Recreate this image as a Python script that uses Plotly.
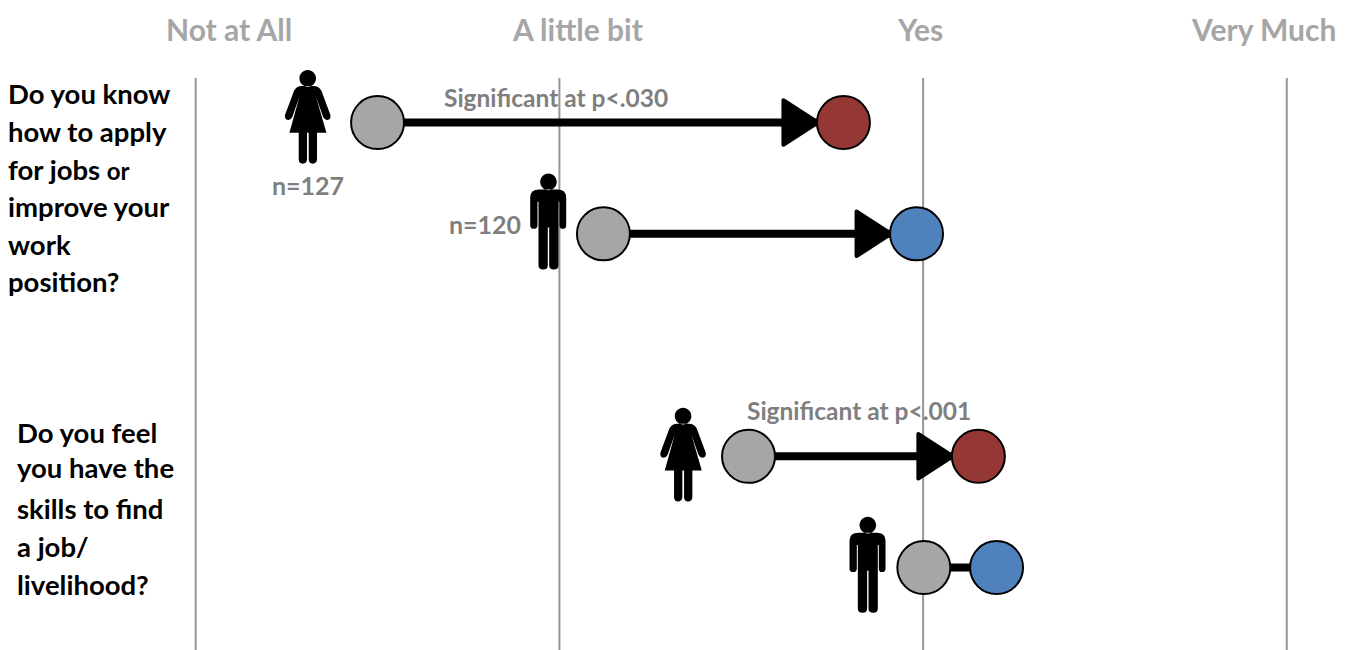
import plotly.graph_objects as go

# ---- data ----
scale_labels = ["Not at All", "A little bit", "Yes", "Very Much"]
scale_values = [0, 1, 2, 3]
rows = [0, 1, 3, 4]
groups = ["Women", "Men", "Women", "Men"]
before = [0.500, 1.121, 1.520, 2.002]
after = [1.781, 1.982, 2.152, 2.202]
after_colors = ["#953735", "#4f81bd", "#953735", "#4f81bd"]
has_arrow = [True, True, True, False]
icon_x = [0.308, 0.970, 1.340, 1.848]
icon_row = [-0.050, 0.895, 2.985, 3.980]
question_1 = ["Do you know", "how to apply", "for jobs <span style='font-size:24px'>or</span>", "improve your", "work", "position?"]
question_2 = ["Do you feel", "you have the", "skills to find", "a job/", "livelihood?"]
question_2_lines = [432, 467, 508, 546, 584]
sig_notes = ["Significant at p&lt;.030", "Significant at p&lt;.001"]
n_notes = ["n=127", "n=120"]

W, H = 1353, 650
X0, XS = 195.7, 363.7
Y0, YS = 122.6, 111.25
TOP = 78


def fmt(d):
    return f"{d[0]:.1f},{-d[1]:.1f}"


def transform(segments, cx, cy, k=1 / 3):
    """zoomed drawing units -> pixel offsets (y up) from the icon centre"""
    out = []
    for cmd, *pts in segments:
        out.append(cmd + " ".join(fmt(((p[0] - cx) * k, (p[1] - cy) * k)) for p in pts))
    return " ".join(out)


def circle(cx, cy, r):
    c = 0.5523 * r
    return [("M", (cx - r, cy)),
            ("C", (cx - r, cy - c), (cx - c, cy - r), (cx, cy - r)),
            ("C", (cx + c, cy - r), (cx + r, cy - c), (cx + r, cy)),
            ("C", (cx + r, cy + c), (cx + c, cy + r), (cx, cy + r)),
            ("C", (cx - c, cy + r), (cx - r, cy + c), (cx - r, cy)),
            ("Z",)]


woman = circle(147, 55, 25) + [
    ("M", (127, 78)), ("L", (167, 78)), ("Q", (182, 80), (188, 92)), ("L", (215, 165)),
    ("Q", (217, 178), (206, 180)), ("Q", (198, 181), (193, 170)), ("L", (172, 110)),
    ("L", (203, 218)), ("L", (175, 218)), ("L", (175, 298)), ("Q", (174, 311), (162, 311)),
    ("Q", (150, 311), (150, 298)), ("L", (150, 218)), ("L", (145, 218)), ("L", (145, 298)),
    ("Q", (144, 311), (132, 311)), ("Q", (120, 311), (120, 298)), ("L", (120, 218)),
    ("L", (92, 218)), ("L", (122, 110)), ("L", (101, 170)), ("Q", (96, 181), (88, 180)),
    ("Q", (77, 178), (79, 165)), ("L", (106, 92)), ("Q", (112, 80), (127, 78)), ("Z",)]
man = circle(328, 35, 25) + [
    ("M", (300, 58)), ("L", (355, 58)), ("Q", (381, 58), (381, 82)), ("L", (381, 165)),
    ("Q", (381, 176), (371, 176)), ("Q", (361, 176), (361, 165)), ("L", (361, 95)),
    ("L", (358, 95)), ("L", (358, 285)), ("Q", (358, 298), (344, 298)), ("Q", (330, 298), (330, 285)),
    ("L", (330, 172)), ("L", (326, 172)), ("L", (326, 285)), ("Q", (326, 298), (312, 298)),
    ("Q", (298, 298), (298, 285)), ("L", (298, 95)), ("L", (295, 95)), ("L", (295, 165)),
    ("Q", (295, 176), (284, 176)), ("Q", (273, 176), (273, 165)), ("L", (273, 82)),
    ("Q", (273, 58), (300, 58)), ("Z",)]
icon_paths = {"Women": transform(woman, 147, 171), "Men": transform(man, 328, 156)}
head_path = "M-62,22 Q-62,25 -59,24 L-25,2 Q-24,0 -25,-2 L-59,-24 Q-62,-25 -62,-22 Z"

y_top = (TOP - Y0) / YS
y_bottom = (H - Y0) / YS

fig = go.Figure()
for r, a, b, c in zip(rows, before, after, after_colors):
    fig.add_trace(go.Scatter(x=[a, b], y=[r, r], mode="lines", showlegend=False, hoverinfo="skip",
                             line=dict(color="black", width=8)))
    fig.add_trace(go.Scatter(x=[a, b], y=[r, r], mode="markers", showlegend=False, hoverinfo="skip",
                             marker=dict(size=53, color=["#a6a6a6", c], line=dict(color="black", width=2))))

shapes = []
for v in scale_values:
    shapes.append(dict(type="line", layer="below", xref="x", yref="y", x0=v, x1=v, y0=y_top, y1=y_bottom,
                       line=dict(color="#969696", width=2)))
for r, b, arrow in zip(rows, after, has_arrow):
    if arrow:
        shapes.append(dict(type="path", layer="below", xref="x", yref="y", xsizemode="pixel", ysizemode="pixel",
                           xanchor=b, yanchor=r, path=head_path, fillcolor="black", line=dict(width=0)))
for g, x, y in zip(groups, icon_x, icon_row):
    shapes.append(dict(type="path", layer="above", xref="x", yref="y", xsizemode="pixel", ysizemode="pixel",
                       xanchor=x, yanchor=y, path=icon_paths[g], fillcolor="black", line=dict(width=0)))

anns = []


def text(s, px, py, size, color, anchor="left"):
    anns.append(dict(text=s, x=px / W, y=1 - py / H, xref="paper", yref="paper", xanchor=anchor, yanchor="middle",
                     showarrow=False, align=anchor, font=dict(family="Lato", size=size, color=color, weight="bold")))


for lab, cx in zip(scale_labels, [229, 577, 920, 1263]):
    text(lab, cx, 29, 30, "#a6a6a6", "center")
for i, s in enumerate(question_1):
    text(s, 6, 94 + i * 37.5, 27.5, "black")
for s, py in zip(question_2, question_2_lines):
    text(s, 15, py, 27.5, "black")
text(sig_notes[0], 555.5, 97, 24.5, "#7f7f7f", "center")
text(sig_notes[1], 859, 410, 24.5, "#7f7f7f", "center")
text(n_notes[0], 308, 185, 25, "#7f7f7f", "center")
text(n_notes[1], 485, 224, 25, "#7f7f7f", "center")

fig.update_layout(
    width=W, height=H, margin=dict(l=0, r=0, t=0, b=0), autosize=False,
    paper_bgcolor="white", plot_bgcolor="white", showlegend=False,
    shapes=shapes, annotations=anns,
    xaxis=dict(range=[-X0 / XS, (W - X0) / XS], showticklabels=False, showgrid=False,
               zeroline=False, showline=False, ticks=""),
    yaxis=dict(range=[y_bottom, -Y0 / YS], showgrid=False, zeroline=False,
               showticklabels=False, showline=False, ticks=""),
)
fig.write_html("out.html", config={"displayModeBar": False},
               post_script="document.body.style.margin='0';document.body.style.overflow='hidden';")
